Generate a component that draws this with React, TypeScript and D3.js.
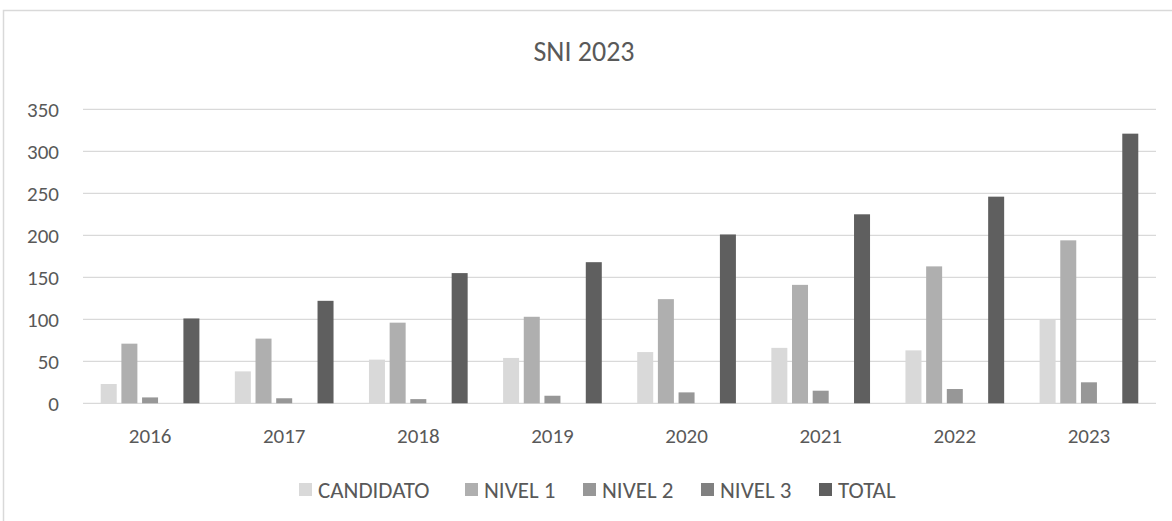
import * as d3 from "d3";
import React from "react";

const years = ["2016", "2017", "2018", "2019", "2020", "2021", "2022", "2023"];
const series = ["CANDIDATO", "NIVEL 1", "NIVEL 2", "NIVEL 3", "TOTAL"];
const candidato = [23, 38, 52, 54, 61, 66, 63, 100];
const nivel1 = [71, 77, 96, 103, 124, 141, 163, 194];
const nivel2 = [7, 6, 5, 9, 13, 15, 17, 25];
const nivel3 = [0, 0, 0, 0, 0, 0, 0, 0];
const total = [101, 122, 155, 168, 201, 225, 246, 321];
const yTicks = [0, 50, 100, 150, 200, 250, 300, 350];
const colors = ["#d9d9d9", "#afafaf", "#979797", "#808080", "#5f5f5f"];

const values = [candidato, nivel1, nivel2, nivel3, total];

const W = 1172;
const H = 521;
const font = "Carlito, Calibri, Lato, sans-serif";
const textColor = "#595959";

const App: React.FC = () => {
  const x0 = d3.scaleBand().domain(years).range([83, 1156]);
  const x1 = d3
    .scaleBand()
    .domain(series)
    .range([0, x0.bandwidth()])
    .paddingInner(0.226)
    .paddingOuter(0.857);
  const y = d3.scaleLinear().domain([0, 350]).range([403.3, 109.3]);
  const color = d3.scaleOrdinal<string>().domain(series).range(colors);

  // posiciones de la leyenda
  const legendX = [299, 465, 583, 701, 819];

  return (
    <svg
      width={W}
      height={H}
      style={{ position: "absolute", left: 0, top: 0, background: "#fff" }}
      fontFamily={font}
    >
      <rect x={3.5} y={10.5} width={1200} height={600} fill="#fff" stroke="#d9d9d9" strokeWidth={1.5} />

      <text x={584} y={61} textAnchor="middle" fontSize={28} fill={textColor}>
        SNI 2023
      </text>

      {/* gridlines + y labels */}
      {yTicks.map((t) => (
        <g key={t}>
          <line x1={83} x2={1156} y1={y(t)} y2={y(t)} stroke="#d9d9d9" strokeWidth={1.3} />
          <text x={59} y={y(t)} dy="0.36em" textAnchor="end" fontSize={21} fill={textColor}>
            {t}
          </text>
        </g>
      ))}

      {/* bars */}
      {years.map((yr, i) => (
        <g key={yr} transform={`translate(${x0(yr)},0)`}>
          {series.map((s, j) =>
            values[j][i] > 0 ? (
              <rect
                key={s}
                x={x1(s)}
                y={y(values[j][i])}
                width={x1.bandwidth()}
                height={y(0) - y(values[j][i])}
                fill={color(s)}
              />
            ) : null
          )}
        </g>
      ))}

      {/* x labels */}
      {years.map((yr) => (
        <text
          key={yr}
          x={x0(yr)! + x0.bandwidth() / 2}
          y={443}
          textAnchor="middle"
          fontSize={21}
          fill={textColor}
        >
          {yr}
        </text>
      ))}

      {/* legend */}
      {series.map((s, j) => (
        <g key={s} transform={`translate(${legendX[j]},0)`}>
          <rect x={0} y={483} width={13} height={13} fill={color(s)} />
          <text x={19} y={498} fontSize={23} fill={textColor}>
            {s}
          </text>
        </g>
      ))}
    </svg>
  );
};

export default App;
